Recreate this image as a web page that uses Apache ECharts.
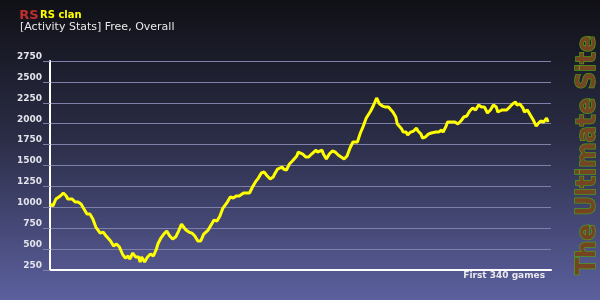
<!DOCTYPE html>
<html>
<head>
<meta charset="utf-8">
<script src="https://cdn.jsdelivr.net/npm/echarts@6/dist/echarts.min.js"></script>
<style>html,body{margin:0;padding:0;}#c{width:600px;height:300px;}</style>
</head>
<body>
<div id="c"></div>
<script>
var titleText = 'RS clan';
var subtitleText = '[Activity Stats] Free, Overall';
var footText = 'First 340 games';
var yTicks = [250, 500, 750, 1000, 1250, 1500, 1750, 2000, 2250, 2500, 2750];
var games = [1,3,5,8,9,10,12,13,16,18,20,22,24,26,28,30,32,35,37,39,42,44,46,48,50,52,54,55,57,59,61,
62,63,65,67,69,71,73,74,76,78,80,82,84,86,88,90,91,93,95,97,99,101,103,105,108,110,112,114,116,
118,121,123,125,127,129,132,134,136,138,140,142,144,146,148,150,152,153,155,158,159,161,163,165,168,169,172,174,
176,178,181,182,185,186,188,190,192,194,196,198,200,202,204,206,209,211,213,215,218,220,222,224,226,228,230,
231,233,235,236,239,240,242,243,245,247,249,250,252,253,255,257,259,262,264,266,267,269,270,273,275,277,279,281,283,
285,287,289,291,293,295,297,299,301,303,304,307,308,310,312,314,316,317,319,321,322,324,326,328,330,331,333,335,337,338];
var activity = [1039,1016,1099,1135,1123,1171,1135,1099,1099,1063,1063,1039,980,920,920,860,764,692,704,656,597,537,561,525,441,393,417,381,453,405,405,
346,405,346,405,441,417,501,561,632,680,716,656,620,644,716,800,812,728,704,692,656,597,597,680,728,788,847,836,895,
991,1063,1123,1111,1135,1135,1171,1171,1171,1243,1303,1350,1410,1422,1374,1338,1362,1398,1458,1482,1458,1446,1518,1554,1614,1661,1637,1601,
1601,1637,1685,1661,1685,1637,1578,1637,1673,1661,1625,1601,1578,1614,1709,1781,1781,1889,1972,2068,2152,2224,2307,2235,2211,2199,2199,
2176,2140,2080,1996,1936,1900,1900,1864,1900,1912,1948,1912,1876,1829,1841,1876,1889,1900,1900,1924,1900,1972,2020,2020,2020,1996,2032,2080,2092,
2152,2188,2164,2224,2199,2199,2128,2164,2224,2199,2140,2164,2152,2164,2199,2235,2259,2224,2235,2188,2140,2164,2104,2044,1972,1996,2032,2020,2068,2020];

var seriesData = games.map(function (g, i) { return [g, activity[i]]; });

var chart = echarts.init(document.getElementById('c'), null, {renderer: 'canvas'});
chart.setOption({
  animation: false,
  backgroundColor: {
    type: 'linear', x: 0, y: 0, x2: 0, y2: 1,
    colorStops: [
      {offset: 0, color: '#101016'},
      {offset: 0.45, color: '#2a2c45'},
      {offset: 1, color: '#5c609e'}
    ]
  },
  grid: {left: 50, right: 49, top: 61, bottom: 30, containLabel: false},
  xAxis: {
    type: 'value', min: 1, max: 340,
    axisLine: {show: true, onZero: false, lineStyle: {color: '#ffffff', width: 2}},
    axisTick: {show: false}, axisLabel: {show: false}, splitLine: {show: false}
  },
  yAxis: {
    type: 'value', min: yTicks[0], max: yTicks[yTicks.length - 1], interval: 250,
    axisLine: {show: true, lineStyle: {color: '#ffffff', width: 2}},
    axisTick: {show: true, length: 7, lineStyle: {color: '#7e80aa', width: 1}},
    splitLine: {show: true, lineStyle: {color: '#7e80aa', width: 1}},
    axisLabel: {
      color: '#e4e4ec', fontFamily: 'DejaVu Sans', fontWeight: 'bold', fontSize: 9,
      margin: 8, verticalAlign: 'bottom',
      formatter: function (v) { return String(v); }
    }
  },
  series: [{
    type: 'line', data: seriesData, showSymbol: false, smooth: false,
    lineStyle: {color: '#ffff00', width: 3}, z: 5
  }],
  graphic: [
    {type: 'text', left: 19, top: 9, style: {text: 'RS', fill: '#b83030', font: 'bold 13px "DejaVu Sans"', stroke: '#3a1010', lineWidth: 0.5}},
    {type: 'text', left: 40, top: 10, style: {text: titleText, fill: '#ffff00', font: 'bold 10px "DejaVu Sans"'}},
    {type: 'text', left: 20, top: 22, style: {text: subtitleText, fill: '#e8e8e8', font: '11px "DejaVu Sans"'}},
    {type: 'text', right: 55, top: 271, style: {text: footText, fill: '#e8e8ec', font: 'bold 9px "DejaVu Sans"'}},
    {type: 'text', x: 588, y: 155, rotation: Math.PI / 2,
      style: {text: 'The Ultimate Site', textAlign: 'center', textVerticalAlign: 'middle',
        font: 'bold 27px "DejaVu Sans Condensed"', fill: '#754422', stroke: '#4f9a18', lineWidth: 1.5}}
  ]
});
</script>
</body>
</html>
